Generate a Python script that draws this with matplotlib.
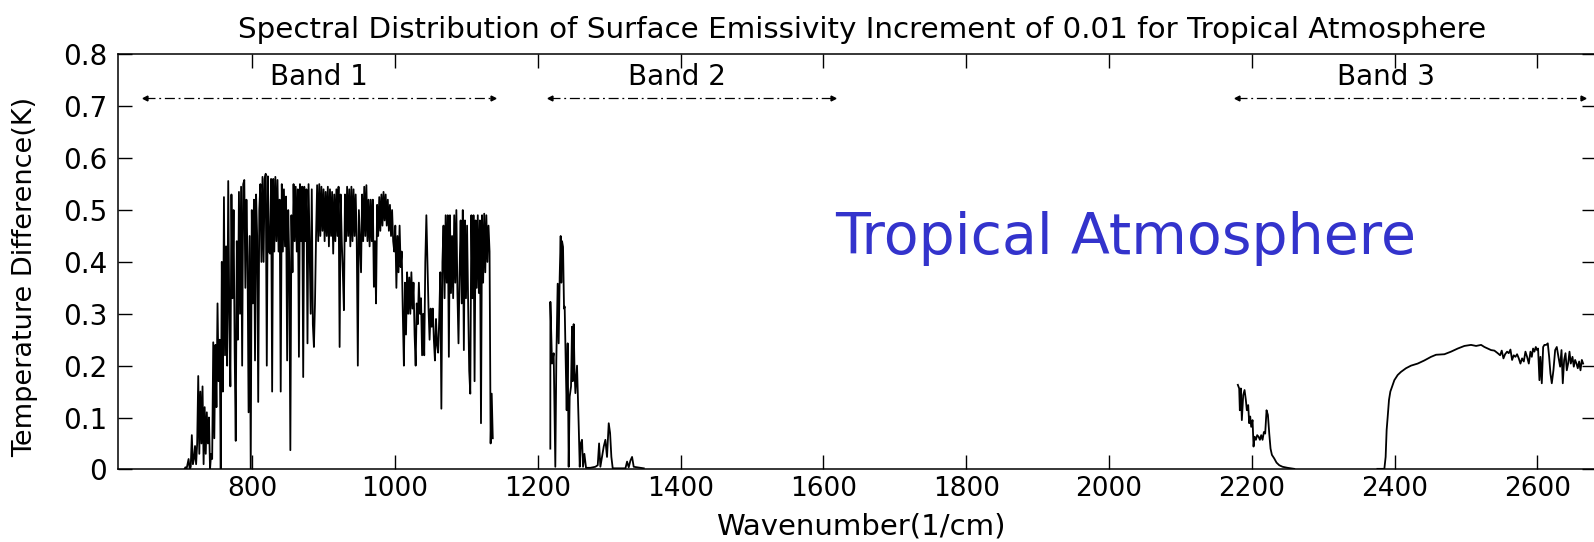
import numpy as np
import matplotlib
matplotlib.use('Agg')
import matplotlib.pyplot as plt

plt.rcParams['font.family'] = 'DejaVu Sans'

# 데이터
# Band 1: 705 cm-1 부터 1.5 cm-1 간격
band1_start = 705
band1_step = 1.5
band1_val = [0, 0.004, 0, 0.01, 0.02, 0.0, 0.005, 0.066, 0.01, 0.02,
             0.045, 0.01, 0.05, 0.18, 0.03, 0.15, 0.05, 0.16, 0.01, 0.12,
             0.03, 0.11, 0.05, 0.10, 0.0, 0.03, 0.02, 0.245, 0.06, 0.24,
             0.12, 0.32, 0.17, 0.25, 0.0, 0.40, 0.15, 0.525, 0.22, 0.43,
             0.20, 0.556, 0.30, 0.16, 0.53, 0.33, 0.50, 0.23, 0.055, 0.44,
             0.25, 0.535, 0.30, 0.545, 0.20, 0.55, 0.558, 0.35, 0.52, 0.41,
             0.11, 0.45, 0.0, 0.50, 0.32, 0.52, 0.21, 0.53, 0.45, 0.13,
             0.50, 0.55, 0.40, 0.564, 0.40, 0.56, 0.57, 0.20, 0.565, 0.42,
             0.416, 0.56, 0.15, 0.56, 0.42, 0.564, 0.44, 0.558, 0.42, 0.52,
             0.15, 0.55, 0.42, 0.54, 0.43, 0.526, 0.21, 0.50, 0.40, 0.037,
             0.49, 0.38, 0.55, 0.44, 0.545, 0.42, 0.54, 0.217, 0.55, 0.44,
             0.545, 0.178, 0.545, 0.44, 0.54, 0.243, 0.55, 0.43, 0.30, 0.54,
             0.28, 0.236, 0.32, 0.45, 0.548, 0.44, 0.55, 0.45, 0.545, 0.46,
             0.54, 0.44, 0.535, 0.45, 0.545, 0.43, 0.54, 0.45, 0.535, 0.416,
             0.53, 0.44, 0.54, 0.45, 0.545, 0.236, 0.53, 0.44, 0.38, 0.307,
             0.53, 0.44, 0.545, 0.45, 0.54, 0.43, 0.545, 0.44, 0.54, 0.45,
             0.53, 0.44, 0.20, 0.50, 0.44, 0.38, 0.53, 0.44, 0.545, 0.45,
             0.548, 0.44, 0.52, 0.43, 0.52, 0.44, 0.52, 0.352, 0.44, 0.32,
             0.51, 0.45, 0.525, 0.46, 0.53, 0.47, 0.535, 0.48, 0.53, 0.47,
             0.52, 0.46, 0.51, 0.45, 0.50, 0.44, 0.42, 0.47, 0.35, 0.45,
             0.38, 0.47, 0.39, 0.42, 0.30, 0.20, 0.36, 0.26, 0.38, 0.30,
             0.37, 0.30, 0.38, 0.31, 0.36, 0.26, 0.20, 0.32, 0.28, 0.36,
             0.30, 0.33, 0.22, 0.30, 0.22, 0.40, 0.49, 0.40, 0.31, 0.25,
             0.31, 0.275, 0.31, 0.25, 0.21, 0.29, 0.24, 0.225, 0.29, 0.38,
             0.117, 0.40, 0.47, 0.33, 0.49, 0.36, 0.49, 0.217, 0.49, 0.34,
             0.45, 0.33, 0.49, 0.36, 0.50, 0.34, 0.243, 0.38, 0.48, 0.32,
             0.50, 0.23, 0.48, 0.33, 0.47, 0.32, 0.19, 0.146, 0.49, 0.33,
             0.49, 0.17, 0.48, 0.35, 0.49, 0.34, 0.48, 0.089, 0.49, 0.36,
             0.493, 0.38, 0.49, 0.40, 0.47, 0.42, 0.05, 0.146, 0.06]

band2_wn = [1217.6, 1217.7, 1220, 1222.3, 1224.6, 1226, 1227.9, 1229.3, 1230.7, 1232.1, 1233, 1234, 1235.4, 1236.8, 1237.7,
            1239.1, 1240.5, 1241.9, 1243.3, 1244.7, 1246.6, 1248, 1249, 1250.3, 1251.5, 1252.7, 1255, 1257.4, 1258.8,
            1260.2, 1262, 1263.4, 1265.3, 1267.6, 1273.7, 1280.7, 1284, 1285.9, 1287.7, 1292.4, 1294.7, 1297, 1299.4,
            1301.3, 1303.1, 1305, 1322.8, 1325.1, 1327.4, 1329.8, 1332.1, 1334.4, 1348.5]
band2_val = [0.04, 0.323, 0.204, 0.224, 0.005, 0.21, 0.358, 0.243, 0.37, 0.45, 0.36, 0.44, 0.429, 0.31, 0.314,
             0.211, 0.114, 0.243, 0.005, 0.14, 0.16, 0.275, 0.17, 0.28, 0.19, 0.147, 0.2, 0.082, 0.005,
             0.05, 0.057, 0.005, 0.03, 0.003, 0.003, 0.005, 0.008, 0.05, 0.005, 0.044, 0.057, 0.024, 0.089,
             0.07, 0.024, 0.002, 0.002, 0.015, 0.004, 0.017, 0.024, 0.005, 0.002]

band3a_wn = [2180.5, 2182.4, 2183.3, 2184.7, 2186.1, 2188, 2189.9, 2191.7, 2193.1, 2195, 2196.4, 2197.8, 2199.2,
             2201.1, 2202.5, 2203.9, 2205.8, 2207.6, 2209.5, 2211.4, 2213.2, 2215.1, 2217, 2218.8, 2220.7, 2222.6,
             2224.5, 2226.3, 2228.2, 2231.5, 2234.7, 2238.5, 2243.1, 2250.1, 2259.5]
band3a_val = [0.163, 0.156, 0.114, 0.156, 0.095, 0.143, 0.153, 0.134, 0.114, 0.124, 0.089, 0.102, 0.082,
              0.095, 0.044, 0.063, 0.057, 0.066, 0.063, 0.057, 0.066, 0.057, 0.072, 0.069, 0.114, 0.105,
              0.069, 0.04, 0.028, 0.021, 0.013, 0.008, 0.005, 0.003, 0.001]

band3b_wn = [2376, 2385.7, 2387.5, 2388.9, 2390.3, 2392.2, 2394.1, 2396.4, 2399.7, 2404.4, 2409, 2416, 2423, 2432.4,
             2441.7, 2451.1, 2458.1, 2469.8, 2479.1, 2488.5, 2497.8, 2507.1, 2514.2, 2521.2, 2525.8, 2530.5, 2535.2,
             2539.8, 2544.5, 2547.8, 2550.1, 2552.5, 2554.8, 2557.6, 2559.9, 2562.3, 2564.6, 2566.9, 2569.3, 2571.6,
             2574, 2576.3, 2578.6, 2581, 2583.3, 2585.6, 2588, 2590.3, 2592.2, 2594, 2595.9, 2597.8, 2599.6, 2601,
             2602.9, 2604.3, 2606.2, 2608.1, 2609.9, 2612.3, 2614.6, 2616.5, 2618.3, 2620.2, 2622.5, 2624.9, 2627.2,
             2629.5, 2631.9, 2633.8, 2635.6, 2637.5, 2639.4, 2641.2, 2643.1, 2645, 2646.8, 2649.2, 2651, 2652.9,
             2654.8, 2656.6, 2658.5, 2660.4, 2662.3, 2664.1]
band3b_val = [0.001, 0.001, 0.024, 0.076, 0.1, 0.134, 0.15, 0.159, 0.172, 0.182, 0.188, 0.195, 0.2, 0.204,
              0.21, 0.217, 0.221, 0.222, 0.227, 0.233, 0.238, 0.24, 0.238, 0.24, 0.236, 0.233, 0.23,
              0.229, 0.224, 0.22, 0.229, 0.214, 0.222, 0.227, 0.224, 0.231, 0.211, 0.22, 0.217, 0.222,
              0.214, 0.204, 0.214, 0.208, 0.227, 0.217, 0.204, 0.227, 0.217, 0.233, 0.227, 0.236, 0.23, 0.233,
              0.172, 0.217, 0.166, 0.236, 0.24, 0.24, 0.243, 0.217, 0.185, 0.166, 0.191, 0.23, 0.236,
              0.217, 0.198, 0.23, 0.166, 0.211, 0.224, 0.191, 0.204, 0.227, 0.204, 0.217, 0.198, 0.211,
              0.204, 0.195, 0.208, 0.191, 0.211, 0.204]

# 밴드 구간 표시
band_names = ['Band 1', 'Band 2', 'Band 3']
band_ranges = [(650, 1138), (1217, 1614), (2179, 2664)]
band_label_x = [894, 1395, 2388]

x_ticks = [800, 1000, 1200, 1400, 1600, 1800, 2000, 2200, 2400, 2600]
y_ticks = [0, 0.1, 0.2, 0.3, 0.4, 0.5, 0.6, 0.7, 0.8]
y_tick_labels = ['0', '0.1', '0.2', '0.3', '0.4', '0.5', '0.6', '0.7', '0.8']

band1_wn = band1_start + band1_step * np.arange(len(band1_val))

fig = plt.figure(figsize=(15.94, 5.42), dpi=100)
ax = fig.add_axes([0.0742, 0.134, 0.9270, 0.7655])

for wn, val in [(band1_wn, band1_val), (band2_wn, band2_val),
                (band3a_wn, band3a_val), (band3b_wn, band3b_val)]:
    ax.plot(wn, val, color='black', lw=1.3)

for name, (x0, x1), lx in zip(band_names, band_ranges, band_label_x):
    ax.plot([x0, x1], [0.717, 0.717], color='black', lw=0.9, linestyle=(0, (8, 3, 1.5, 3)))
    ax.plot([x0], [0.717], marker='<', color='black', markersize=3.5)
    ax.plot([x1], [0.717], marker='>', color='black', markersize=3.5)
    ax.text(lx, 0.742, name, ha='center', va='baseline', fontsize=20)

ax.text(1616, 0.415, 'Tropical Atmosphere', color='#3333cc', fontsize=41,
        ha='left', va='baseline')

ax.set_xlim(612.5, 2682)
ax.set_ylim(0, 0.8)
ax.set_xticks(x_ticks)
ax.set_yticks(y_ticks)
ax.set_yticklabels(y_tick_labels)
ax.tick_params(direction='in', length=10, width=1, top=True, right=True)
ax.tick_params(axis='x', labelsize=19, pad=5)
ax.tick_params(axis='y', labelsize=20, pad=8)
for s in ax.spines.values():
    s.set_linewidth(1.1)

fig.text(25 / 1594, 1 - 277 / 542, 'Temperature Difference(K)', rotation=90,
         ha='center', va='center', fontsize=19.5)
fig.text(861 / 1594, 1 - 535 / 542, 'Wavenumber(1/cm)', ha='center', va='baseline', fontsize=21)
fig.text(862 / 1594, 1 - 37.5 / 542,
         'Spectral Distribution of Surface Emissivity Increment of 0.01 for Tropical Atmosphere',
         ha='center', va='baseline', fontsize=21.2)

fig.savefig('out.png', dpi=100)
